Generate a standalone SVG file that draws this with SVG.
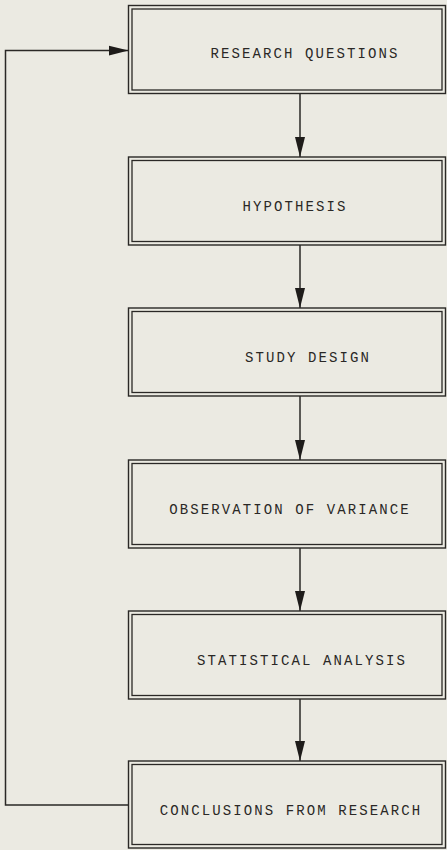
<svg xmlns="http://www.w3.org/2000/svg" width="447" height="850" viewBox="0 0 447 850">
<defs>
<style>
.o{fill:none;stroke:#2a2826;stroke-width:1.4}
.i{fill:none;stroke:#2a2826;stroke-width:1.3}
.t{font-family:"Liberation Mono","Courier New",monospace;font-size:14px;letter-spacing:2.1px;fill:#2a2826;text-anchor:middle}
.c{fill:none;stroke:#2a2826;stroke-width:1.5}
</style>
<marker id="ah" markerUnits="userSpaceOnUse" markerWidth="20" markerHeight="12" viewBox="0 0 20 12" refX="20" refY="6" orient="auto">
<path d="M0,1 L20,6 L0,11 Z" fill="#1e1c1a"/>
</marker>
</defs>
<rect width="447" height="850" fill="#ebeae2"/>
<g id="connectors">
<path class="c" d="M300,93 V157" marker-end="url(#ah)"/>
<path class="c" d="M300,245 V308" marker-end="url(#ah)"/>
<path class="c" d="M300,396 V460" marker-end="url(#ah)"/>
<path class="c" d="M300,548 V611" marker-end="url(#ah)"/>
<path class="c" d="M300,699 V761" marker-end="url(#ah)"/>
<path class="c" d="M128.5,805 H5.5 V50.5 H128.5" marker-end="url(#ah)"/>
</g>
<g id="n1">
<rect class="o" x="128.5" y="5.5" width="317" height="88"/>
<rect class="i" x="132" y="9" width="310" height="81"/>
<text class="t" x="305" y="58">RESEARCH QUESTIONS</text>
</g>
<g id="n2">
<rect class="o" x="128.5" y="157" width="317" height="88"/>
<rect class="i" x="132" y="160.5" width="310" height="81"/>
<text class="t" x="295" y="211">HYPOTHESIS</text>
</g>
<g id="n3">
<rect class="o" x="128.5" y="308" width="317" height="88"/>
<rect class="i" x="132" y="311.5" width="310" height="81"/>
<text class="t" x="308" y="362">STUDY DESIGN</text>
</g>
<g id="n4">
<rect class="o" x="128.5" y="460" width="317" height="88"/>
<rect class="i" x="132" y="463.5" width="310" height="81"/>
<text class="t" x="290" y="514">OBSERVATION OF VARIANCE</text>
</g>
<g id="n5">
<rect class="o" x="128.5" y="611" width="317" height="88"/>
<rect class="i" x="132" y="614.5" width="310" height="81"/>
<text class="t" x="302" y="665">STATISTICAL ANALYSIS</text>
</g>
<g id="n6">
<rect class="o" x="128.5" y="761" width="317" height="87"/>
<rect class="i" x="132" y="764.5" width="310" height="80"/>
<text class="t" x="291" y="815">CONCLUSIONS FROM RESEARCH</text>
</g>
</svg>
